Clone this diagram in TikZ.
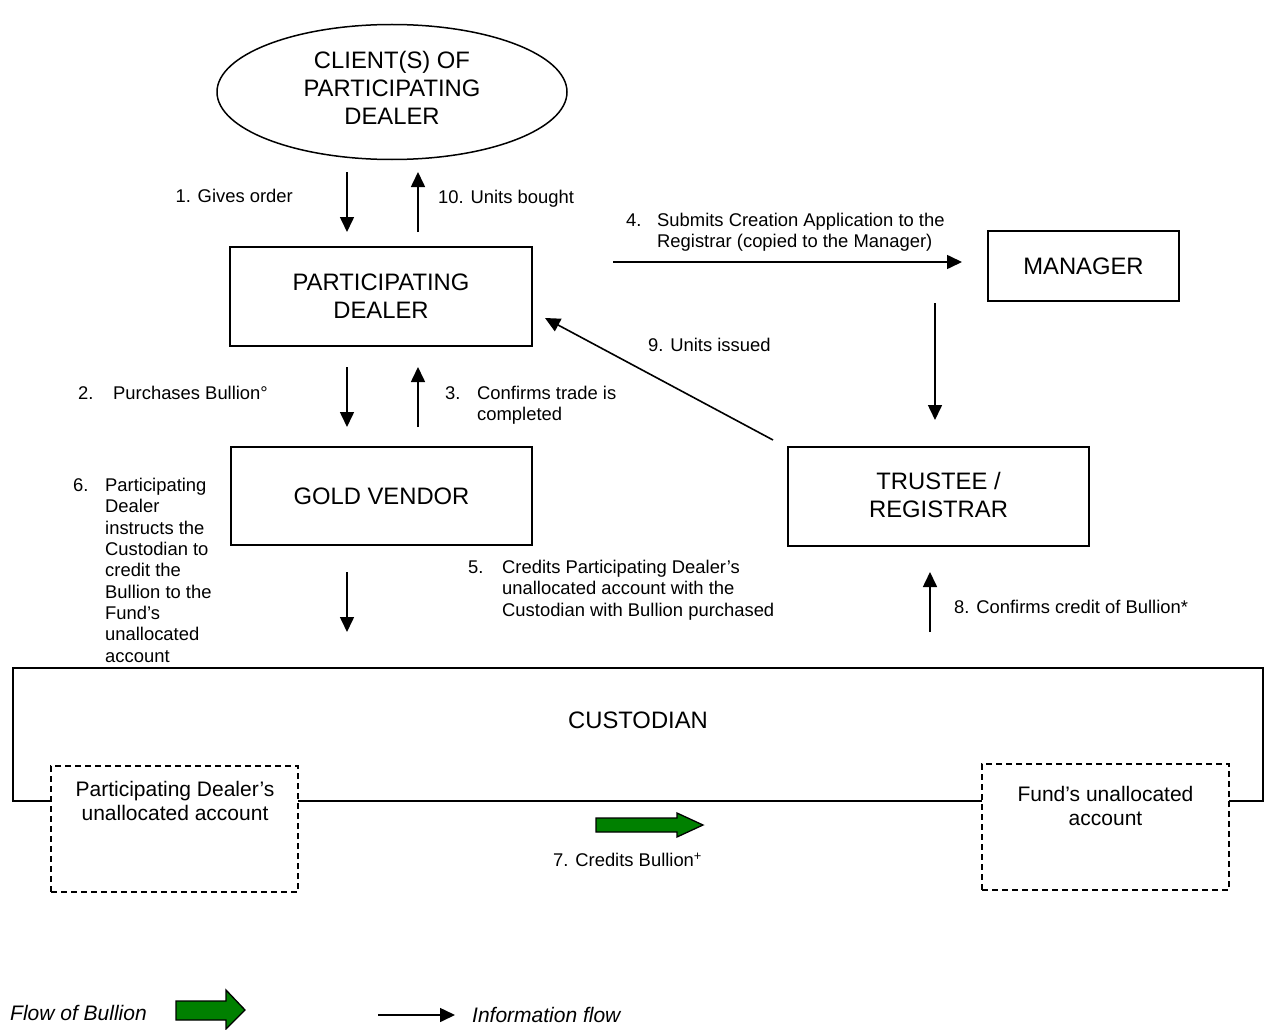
\documentclass[tikz,border=0pt]{standalone}
\usepackage{fontspec}
\setmainfont{Liberation Sans}
\usetikzlibrary{arrows.meta,shapes.geometric}
\definecolor{bgreen}{RGB}{0,128,0}
\newcommand\bigfont{\fontsize{23.8}{28}\selectfont}
\newcommand\midfont{\fontsize{21}{24.5}\selectfont}
\newcommand\smfont{\fontsize{18.4}{21.3}\selectfont}
\begin{document}
\begin{tikzpicture}[x=1pt,y=-1pt,
  mainbox/.style={draw, line width=1.5pt, inner sep=0pt, align=center, font=\bigfont},
  dashbox/.style={draw, fill=white, line width=1.5pt, dash pattern=on 6pt off 4pt, inner sep=0pt},
  infoarrow/.style={-{Triangle[length=15pt,width=14pt]}, line width=1.6pt},
  lbl/.style={inner sep=0pt, font=\smfont},
  gfill/.style={fill=bgreen, draw=black, line width=1.3pt, line join=miter}]
\useasboundingbox (0,0) rectangle (1266,1030);

% main shapes
\node[ellipse, draw, line width=1.5pt, minimum width=350pt, minimum height=135pt, inner sep=0pt] (client) at (392,92) {};
\node[inner sep=0pt, font=\bigfont, align=center] (clienttxt) at (392,87.5) {CLIENT(S) OF\\PARTICIPATING\\DEALER};
\node[mainbox, minimum width=302pt, minimum height=99pt] (pd) at (381,296.5) {PARTICIPATING\\DEALER};
\node[mainbox, minimum width=301pt, minimum height=98pt] (gv) at (381.5,496) {GOLD VENDOR};
\node[mainbox, minimum width=191pt, minimum height=70pt] (mgr) at (1083.5,266) {MANAGER};
\node[draw, line width=1.5pt, minimum width=301pt, minimum height=99pt, inner sep=0pt] (tr) at (938.5,496.5) {};
\node[inner sep=0pt, font=\bigfont, align=center] (trtxt) at (938.5,494.5) {TRUSTEE /\\REGISTRAR};

% custodian
\node[draw, line width=1.5pt, minimum width=1250pt, minimum height=133pt, inner sep=0pt] (cust) at (638,734.5) {};
\node[inner sep=0pt, font=\bigfont] (custtxt) at (638,720) {CUSTODIAN};
\node[dashbox, minimum width=247pt, minimum height=126pt] (pda) at (174.5,829) {};
\node[inner sep=0pt, font=\midfont, align=center, anchor=north] (pdatxt) at (175,781) {Participating Dealer’s\\unallocated account};
\node[dashbox, minimum width=247pt, minimum height=126pt] (fua) at (1105.5,827) {};
\node[inner sep=0pt, font=\midfont, align=center, anchor=north] (fuatxt) at (1105.5,786) {Fund’s unallocated\\account};

% arrow end points
\coordinate (a1s) at (347,172); \coordinate (a1e) at (347,232);
\coordinate (a10s) at (418,232); \coordinate (a10e) at (418,172);
\coordinate (a2s) at (347,367); \coordinate (a2e) at (347,427);
\coordinate (a3s) at (418,427); \coordinate (a3e) at (418,367);
\coordinate (a6s) at (347,572); \coordinate (a6e) at (347,632);
\coordinate (a8s) at (930,632); \coordinate (a8e) at (930,572);
\coordinate (a4s) at (613,262); \coordinate (a4e) at (962,262);
\coordinate (ams) at (935,303); \coordinate (ame) at (935,420);
\coordinate (a9s) at (773,440); \coordinate (a9e) at (545,318);

\draw[infoarrow] (a1s) -- (a1e);
\draw[infoarrow] (a10s) -- (a10e);
\draw[infoarrow] (a2s) -- (a2e);
\draw[infoarrow] (a3s) -- (a3e);
\draw[infoarrow] (a6s) -- (a6e);
\draw[infoarrow] (a8s) -- (a8e);
\draw[infoarrow] (a4s) -- (a4e);
\draw[infoarrow] (ams) -- (ame);
\draw[infoarrow] (a9s) -- (a9e);

% labels
\node[lbl, anchor=base east] (l1) at (293,202.6) {1. Gives order};
\node[lbl, anchor=base west] (l10) at (438,203.6) {10. Units bought};
\node[lbl, anchor=base west] (l4) at (626,226.6) {\begin{tabular}[t]{@{}p{31pt}@{}l@{}}4. & Submits Creation Application to the\\ & Registrar (copied to the Manager)\end{tabular}};
\node[lbl, anchor=base west] (l2) at (78,399.6) {\begin{tabular}[t]{@{}p{35pt}@{}l@{}}2. & Purchases Bullion°\end{tabular}};
\node[lbl, anchor=base west] (l3) at (445,399.6) {\begin{tabular}[t]{@{}p{32pt}@{}l@{}}3. & Confirms trade is\\ & completed\end{tabular}};
\node[lbl, anchor=base west] (l9) at (648,351.6) {9. Units issued};
\node[lbl, anchor=base west] (l6) at (73,491.6) {\begin{tabular}[t]{@{}p{32pt}@{}l@{}}6. & Participating\\ & Dealer\\ & instructs the\\ & Custodian to\\ & credit the\\ & Bullion to the\\ & Fund’s\\ & unallocated\\ & account\end{tabular}};
\node[lbl, anchor=base west] (l5) at (468,573.6) {\begin{tabular}[t]{@{}p{34pt}@{}l@{}}5. & Credits Participating Dealer’s\\ & unallocated account with the\\ & Custodian with Bullion purchased\end{tabular}};
\node[lbl, anchor=base west] (l8) at (954,613.6) {8. Confirms credit of Bullion*};
\node[lbl, anchor=base west] (l7) at (553,866.6) {7. Credits Bullion\textsuperscript{+}};

% bullion flow arrow
\draw[gfill] (596,818) -- (677,818) -- (677,813) -- (703,825) -- (677,837) -- (677,832) -- (596,832) -- cycle;

% legend
\node[inner sep=0pt, anchor=base west, font=\midfont\itshape] (lgb) at (10,1020.5) {Flow of Bullion};
\draw[gfill] (176,1001) -- (226,1001) -- (226,990) -- (245,1010) -- (226,1029) -- (226,1020) -- (176,1020) -- cycle;
\coordinate (lgs) at (378,1015); \coordinate (lge) at (455,1015);
\draw[infoarrow] (lgs) -- (lge);
\node[inner sep=0pt, anchor=base west, font=\midfont\itshape] (lgi) at (472,1022.5) {Information flow};
\end{tikzpicture}
\end{document}
